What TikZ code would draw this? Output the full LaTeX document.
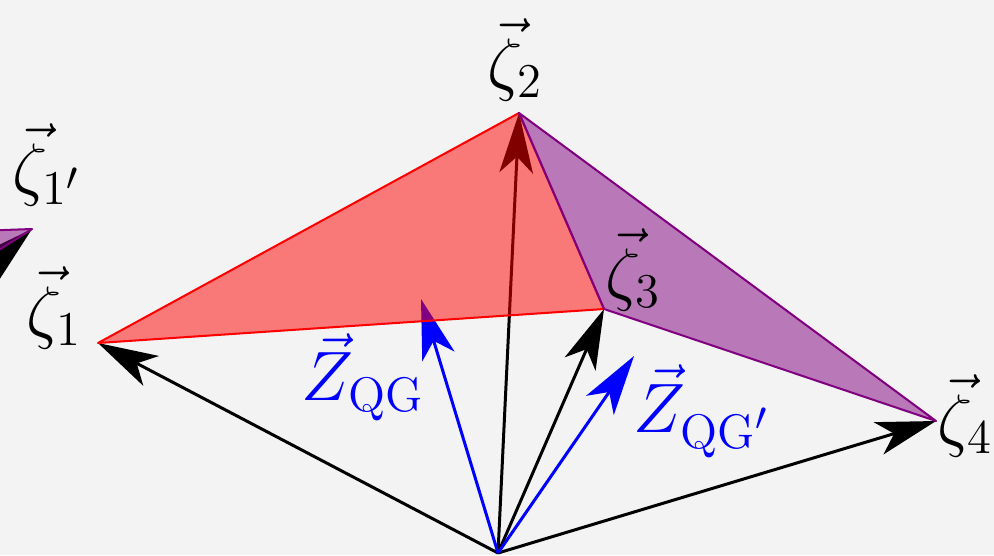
\documentclass[tikz,border=0pt]{standalone}
\usepackage{xcolor}
\usepackage{tikz}
\usetikzlibrary{arrows.meta}
\definecolor{bgfill}{HTML}{F3F3F3}
\definecolor{facepurple}{HTML}{800080}
\tikzset{
  vecarrow/.style={line width=0.74pt, -{Stealth[length=14.8pt, width=8.3pt, inset=4pt]}},
  basevec/.style={vecarrow, draw=black, fill=black},
  qgvec/.style={vecarrow, draw=blue, fill=blue},
  face/.style={line width=0.5pt, line join=round, fill opacity=0.5},
  redface/.style={face, draw=red, fill=red},
  purpleface/.style={face, draw=facepurple, fill=facepurple},
  vlabel/.style={inner sep=0pt, font=\LARGE},
  qglabel/.style={vlabel, text=blue}
}

\begin{document}
\begin{tikzpicture}[x=0.247pt,y=-0.247pt]
\useasboundingbox (0,0) rectangle (994,555);
\fill[bgfill] (0,0) rectangle (994,555);
\clip (0,0) rectangle (994,555);

% base point and vertices
\coordinate (O) at (498,553);
\coordinate (z1) at (98,343);
\coordinate (z2) at (519,113);
\coordinate (z3) at (604,309);
\coordinate (z4) at (936,421);
\coordinate (zqg) at (421,299);
\coordinate (zqgp) at (634,356);
% second configuration, mostly off the page
\coordinate (Ob) at (-150,390);
\coordinate (z1p) at (32,229);
\coordinate (z2p) at (-80,233);
\coordinate (z3p) at (-80,300);

\draw[basevec] (O) -- (z1);
\draw[basevec] (O) -- (z2);
\draw[basevec] (O) -- (z3);
\draw[basevec] (O) -- (z4);
\draw[qgvec] (O) -- (zqg);
\draw[qgvec] (O) -- (zqgp);
\draw[basevec] (Ob) -- (z1p);

\filldraw[redface] (z1) -- (z2) -- (z3) -- cycle;
\filldraw[purpleface] (z2) -- (z3) -- (z4) -- cycle;
\filldraw[purpleface] (z1p) -- (z2p) -- (z3p) -- cycle;

\node[vlabel] (l1p) at (47,165) {$\vec{\zeta}_{1'}$};
\node[vlabel] (l1) at (54,308) {$\vec{\zeta}_1$};
\node[vlabel] (l2) at (515,60) {$\vec{\zeta}_2$};
\node[vlabel] (l3) at (633,270) {$\vec{\zeta}_3$};
\node[vlabel] (l4) at (965,416) {$\vec{\zeta}_4$};
\node[qglabel] (lqg) at (363,377) {$\vec{Z}_{\mathrm{QG}}$};
\node[qglabel] (lqgp) at (702,411) {$\vec{Z}_{\mathrm{QG}'}$};
\end{tikzpicture}
\end{document}
